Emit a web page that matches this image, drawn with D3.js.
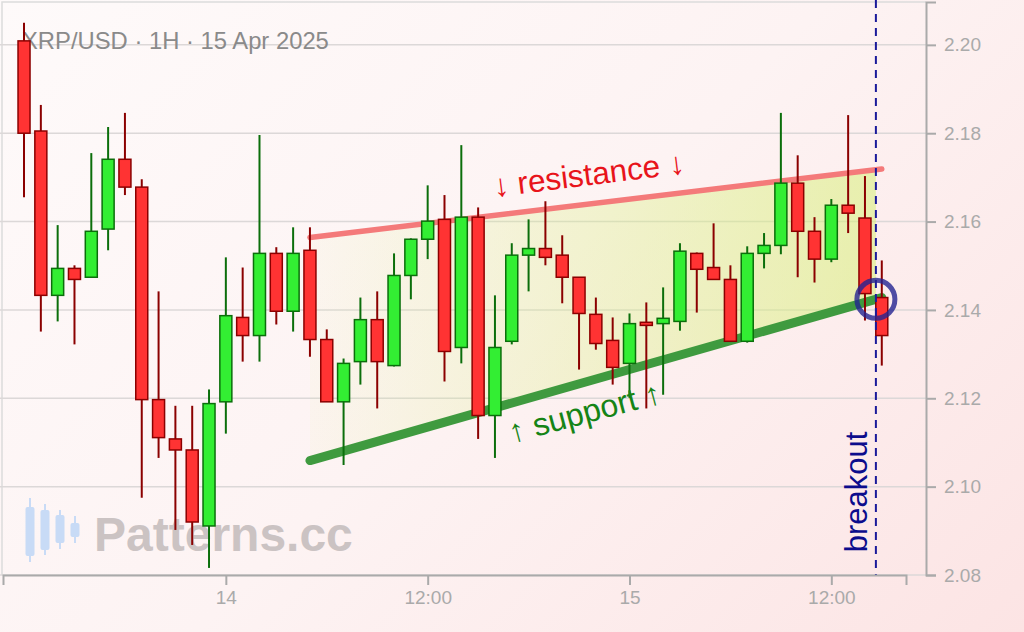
<!DOCTYPE html>
<html lang="en">
<head>
<meta charset="utf-8">
<title>XRP/USD rising wedge</title>
<script src="https://cdn.jsdelivr.net/npm/d3@7"></script>
<style>
  html, body { margin: 0; padding: 0; }
  body {
    width: 1024px; height: 632px; overflow: hidden;
    background: linear-gradient(135deg, #fefafa 0%, #fdf3f3 50%, #fce4e4 100%);
    font-family: 'Liberation Sans', Arial, sans-serif;
  }
</style>
</head>
<body>
<div id="chart"></div>
<script>
// hourly candles, first one at 13 Apr 2025 12:00 UTC
const startTime = Date.UTC(2025, 3, 13, 12);
const opens  = [2.2009, 2.1805, 2.1433, 2.1494, 2.1474, 2.1583, 2.1741, 2.1678, 2.1197, 2.1108,
                2.1083, 2.0911, 2.1192, 2.1383, 2.1342, 2.1528, 2.1397, 2.1535, 2.1333, 2.1192,
                2.1283, 2.1378, 2.1274, 2.1478, 2.1560, 2.1605, 2.1315, 2.1610, 2.1161, 2.1329,
                2.1524, 2.1539, 2.1524, 2.1474, 2.1390, 2.1331, 2.1279, 2.1372, 2.1369, 2.1374,
                2.1528, 2.1496, 2.1469, 2.1329, 2.1528, 2.1546, 2.1687, 2.1578, 2.1515, 2.1637,
                2.1608, 2.1428];
const highs  = [2.2050, 2.1864, 2.1592, 2.1501, 2.1755, 2.1814, 2.1846, 2.1696, 2.1442, 2.1183,
                2.1183, 2.1220, 2.1519, 2.1496, 2.1796, 2.1542, 2.1587, 2.1587, 2.1356, 2.1290,
                2.1428, 2.1442, 2.1528, 2.1562, 2.1682, 2.1660, 2.1773, 2.1632, 2.1433, 2.1551,
                2.1605, 2.1646, 2.1569, 2.1474, 2.1428, 2.1383, 2.1392, 2.1417, 2.1451, 2.1551,
                2.1530, 2.1596, 2.1501, 2.1544, 2.1574, 2.1846, 2.1750, 2.1610, 2.1651, 2.1841,
                2.1703, 2.1512];
const lows   = [2.1655, 2.1351, 2.1374, 2.1322, 2.1474, 2.1535, 2.1660, 2.0975, 2.1065, 2.0902,
                2.0868, 2.0816, 2.1120, 2.1283, 2.1283, 2.1367, 2.1351, 2.1294, 2.1192, 2.1049,
                2.1231, 2.1177, 2.1272, 2.1424, 2.1515, 2.1238, 2.1279, 2.1108, 2.1065, 2.1322,
                2.1442, 2.1501, 2.1415, 2.1265, 2.1310, 2.1231, 2.1201, 2.1177, 2.1208, 2.1353,
                2.1394, 2.1469, 2.1329, 2.1326, 2.1494, 2.1526, 2.1474, 2.1462, 2.1508, 2.1574,
                2.1376, 2.1274];
const closes = [2.1800, 2.1433, 2.1494, 2.1469, 2.1578, 2.1741, 2.1678, 2.1197, 2.1111, 2.1083,
                2.0920, 2.1188, 2.1387, 2.1342, 2.1528, 2.1397, 2.1528, 2.1333, 2.1192, 2.1279,
                2.1378, 2.1283, 2.1478, 2.1560, 2.1601, 2.1306, 2.1610, 2.1161, 2.1315, 2.1524,
                2.1539, 2.1519, 2.1474, 2.1392, 2.1324, 2.1270, 2.1369, 2.1365, 2.1381, 2.1533,
                2.1492, 2.1469, 2.1329, 2.1528, 2.1546, 2.1687, 2.1578, 2.1515, 2.1637, 2.1619,
                2.1437, 2.1342];

// wedge lines: [hour offset, price]
const resistance = [[17, 2.1564], [51, 2.1719]];
const support    = [[17, 2.1059], [51, 2.1428]];
const breakoutHour = 50.65;
const breakoutPrice = 2.1424;

const yTicks = [2.08, 2.10, 2.12, 2.14, 2.16, 2.18, 2.20];
const xTickTimes = [Date.UTC(2025, 3, 14, 0), Date.UTC(2025, 3, 14, 12), Date.UTC(2025, 3, 15, 0), Date.UTC(2025, 3, 15, 12)];
const xTickLabels = ["14", "12:00", "15", "12:00"];

const width = 1024, height = 632;
const hour = 3600 * 1000;
const t = (h) => new Date(startTime + h * hour);

const x = d3.scaleUtc().domain([t(-1.25), t(52.44)]).range([3, 906]);
const y = d3.scaleLinear().domain([2.08, 2.2097]).range([575, 2]);

const candles = opens.map((o, i) => ({ time: t(i), open: o, high: highs[i], low: lows[i], close: closes[i] }));

const svg = d3.select("#chart").append("svg")
    .attr("width", width)
    .attr("height", height);

const defs = svg.append("defs");
const grad = defs.append("linearGradient")
    .attr("id", "wedgeFill")
    .attr("gradientUnits", "userSpaceOnUse")
    .attr("x1", x(t(17))).attr("x2", x(t(breakoutHour)))
    .attr("y1", 0).attr("y2", 0);
grad.append("stop").attr("offset", "0%").attr("stop-color", "rgb(215,240,120)").attr("stop-opacity", 0.05);
grad.append("stop").attr("offset", "100%").attr("stop-color", "rgb(215,240,120)").attr("stop-opacity", 0.55);

// frame
svg.append("path")
    .attr("d", "M2,575V2H926")
    .style("fill", "none")
    .style("stroke", "#dcdcdc")
    .style("stroke-width", 1.5);

// gridlines
svg.append("g").selectAll("line")
    .data(yTicks)
    .enter().append("line")
    .attr("x1", 0).attr("x2", 926)
    .attr("y1", d => y(d)).attr("y2", d => y(d))
    .style("stroke", "#dcd8d8")
    .style("stroke-width", 1.5);

// title
svg.append("text")
    .attr("x", 22).attr("y", 49)
    .style("font-size", "23.8px")
    .style("fill", "#8a8a8a")
    .text("XRP/USD · 1H · 15 Apr 2025");

// watermark
const wm = svg.append("g").style("fill", "#c8dbf6");
[[30, 498, 562, 507, 556], [45, 504, 555, 510, 550], [60, 510, 549, 515, 543], [75, 516, 543, 523, 537]]
    .forEach(([cx, wt, wb, bt, bb]) => {
        wm.append("rect").attr("x", cx - 1).attr("y", wt).attr("width", 2).attr("height", wb - wt);
        wm.append("rect").attr("x", cx - 4.5).attr("y", bt).attr("width", 9).attr("height", bb - bt).attr("rx", 2);
    });
svg.append("text")
    .attr("x", 94).attr("y", 551)
    .style("font-size", "48px")
    .style("font-weight", "bold")
    .style("fill", "#cbc3c3")
    .text("Patterns.cc");

// wedge fill
const lineAt = (ln, h) => ln[0][1] + (ln[1][1] - ln[0][1]) * (h - ln[0][0]) / (ln[1][0] - ln[0][0]);
const wedge = [
    [17, lineAt(resistance, 17)], [breakoutHour, lineAt(resistance, breakoutHour)],
    [breakoutHour, lineAt(support, breakoutHour)], [17, lineAt(support, 17)]
];
svg.append("path")
    .attr("d", "M" + wedge.map(p => x(t(p[0])) + "," + y(p[1])).join("L") + "Z")
    .style("fill", "url(#wedgeFill)");

const trend = d3.line().x(d => x(t(d[0]))).y(d => y(d[1]));
svg.append("path")
    .datum(resistance)
    .attr("d", trend)
    .style("stroke", "#f47a7a")
    .style("stroke-width", 5.5)
    .style("stroke-linecap", "round");
svg.append("path")
    .datum(support)
    .attr("d", trend)
    .style("stroke", "#3f9a3f")
    .style("stroke-width", 9)
    .style("stroke-linecap", "round");

// candles
const bodyW = 12;
const cg = svg.append("g").selectAll("g")
    .data(candles)
    .enter().append("g");
cg.append("line")
    .attr("x1", d => x(d.time)).attr("x2", d => x(d.time))
    .attr("y1", d => y(d.high)).attr("y2", d => y(d.low))
    .style("stroke", d => d.close >= d.open ? "#0b6e0b" : "#8b0000")
    .style("stroke-width", 2);
cg.append("rect")
    .attr("x", d => x(d.time) - bodyW / 2)
    .attr("y", d => y(Math.max(d.open, d.close)))
    .attr("width", bodyW)
    .attr("height", d => Math.max(1.5, Math.abs(y(d.open) - y(d.close))))
    .style("fill", d => d.close >= d.open ? "#33ee33" : "#ff3333")
    .style("stroke", d => d.close >= d.open ? "#0b6e0b" : "#8b0000")
    .style("stroke-width", 1.5);

// breakout marker
const bx = x(t(breakoutHour));
svg.append("line")
    .attr("x1", bx).attr("x2", bx)
    .attr("y1", 0).attr("y2", 575)
    .style("stroke", "#1a1a9a")
    .style("stroke-width", 2)
    .style("stroke-dasharray", "8,6");
svg.append("circle")
    .attr("cx", bx).attr("cy", y(breakoutPrice))
    .attr("r", 19)
    .style("fill", "none")
    .style("stroke", "rgba(35,35,145,0.8)")
    .style("stroke-width", 5);
svg.append("text")
    .attr("transform", "translate(" + (bx - 9) + "," + y(2.0988) + ") rotate(-90)")
    .attr("text-anchor", "middle")
    .style("font-size", "31px")
    .style("fill", "#0c0c8c")
    .text("breakout");

// wedge labels
svg.append("text")
    .attr("transform", "translate(" + x(t(33.65)) + "," + (y(2.1705) + 10) + ") rotate(-7)")
    .attr("text-anchor", "middle")
    .style("font-size", "31.5px")
    .style("fill", "#e8141b")
    .text("↓ resistance ↓");
svg.append("text")
    .attr("transform", "translate(" + x(t(33.5)) + "," + (y(2.1167) + 10) + ") rotate(-15)")
    .attr("text-anchor", "middle")
    .style("font-size", "32px")
    .style("fill", "#168416")
    .text("↑ support ↑");

// axes
const xAxis = d3.axisBottom(x)
    .tickValues(xTickTimes.map(d => new Date(d)))
    .tickFormat((d, i) => xTickLabels[i])
    .tickSize(10)
    .tickPadding(6);
const gx = svg.append("g")
    .attr("transform", "translate(0,575)")
    .call(xAxis);

const yAxis = d3.axisRight(y)
    .tickValues(yTicks)
    .tickFormat(d3.format(".2f"))
    .tickSize(10)
    .tickPadding(8);
const gy = svg.append("g")
    .attr("transform", "translate(926,0)")
    .call(yAxis);

[gx, gy].forEach(g => {
    g.selectAll("path, line").style("stroke", "#aaaaaa").style("stroke-width", 2);
    g.selectAll("text")
        .style("font-family", "'Liberation Sans', Arial, sans-serif")
        .style("font-size", "19px")
        .style("fill", "#aaaaaa");
});
</script>
</body>
</html>
